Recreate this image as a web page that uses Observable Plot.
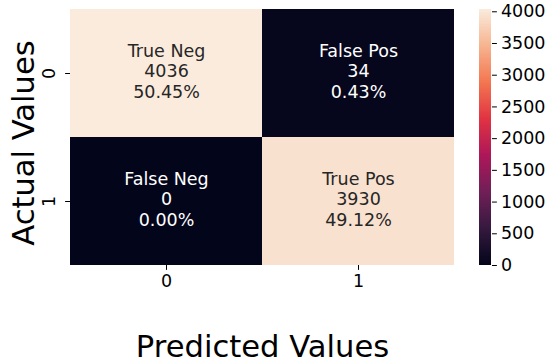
<!DOCTYPE html>
<html>
<head>
<meta charset="utf-8">
<script src="https://cdn.jsdelivr.net/npm/d3@7"></script>
<script src="https://cdn.jsdelivr.net/npm/@observablehq/plot@0.6"></script>
<style>
  html, body { margin: 0; padding: 0; background: white; }
  #chart { position: relative; width: 550px; height: 362px; }
  #chart svg { position: absolute; left: 0; top: 0; }
</style>
</head>
<body>
<div id="chart"></div>
<script>
// ---- data ----
const actualCats = ["0", "1"];
const predictedCats = ["0", "1"];
const cellActual = ["0", "0", "1", "1"];
const cellPredicted = ["0", "1", "0", "1"];
const cellNames = ["True Neg", "False Pos", "False Neg", "True Pos"];
const cellCounts = [4036, 34, 0, 3930];
const cellPercents = ["50.45%", "0.43%", "0.00%", "49.12%"];
const colorbarTicks = [0, 500, 1000, 1500, 2000, 2500, 3000, 3500, 4000];
const xLabel = "Predicted Values";
const yLabel = "Actual Values";

// rocket colormap (seaborn) stops
const rocketStops = ["#03051a", "#35193e", "#701f57", "#ad1759", "#e13342", "#f37651", "#f6b48f", "#faebdd"];
const rocket = d3.piecewise(d3.interpolateRgb, rocketStops);

const vmin = 0;
const vmax = d3.max(cellCounts);

const cells = cellCounts.map((c, i) => ({
  actual: cellActual[i],
  predicted: cellPredicted[i],
  name: cellNames[i],
  count: c,
  pct: cellPercents[i]
}));

const font = "DejaVu Sans";
const fs = 17.5;
const bigFs = 30.6;

const colorOpts = {type: "linear", domain: [vmin, vmax], interpolate: rocket};

function textColor(v) {
  const c = d3.rgb(rocket((v - vmin) / (vmax - vmin)));
  const lum = [c.r, c.g, c.b].map(x => {
    x /= 255;
    return x <= 0.03928 ? x / 12.92 : Math.pow((x + 0.055) / 1.055, 2.4);
  });
  const L = 0.2126 * lum[0] + 0.7152 * lum[1] + 0.0722 * lum[2];
  return L > 0.408 ? "#262626" : "#ffffff";
}

const main = Plot.plot({
  width: 550,
  height: 362,
  marginLeft: 70,
  marginRight: 96,
  marginTop: 9,
  marginBottom: 97,
  style: {fontFamily: font, fontSize: fs + "px", background: "white", color: "black"},
  x: {type: "band", domain: predictedCats, padding: 0, axis: null},
  y: {type: "band", domain: actualCats, padding: 0, axis: null},
  color: colorOpts,
  marks: [
    Plot.cell(cells, {x: "predicted", y: "actual", fill: "count", inset: 0}),
    Plot.text(cells, {
      x: "predicted", y: "actual",
      text: d => `${d.name}\n${d.count}\n${d.pct}`,
      fill: d => textColor(d.count),
      fontSize: fs, lineHeight: 1.17, dy: -3
    }),
    Plot.axisX({tickSize: 4.9, tickPadding: 4.5, fontSize: fs, label: null}),
    Plot.axisY({tickSize: 4.9, tickFormat: () => "", label: null}),
    Plot.text(actualCats, {y: d => d, frameAnchor: "left", textAnchor: "middle", lineAnchor: "middle", dx: -21, rotate: -90, fontSize: fs, fill: "black"}),
    Plot.text([xLabel], {frameAnchor: "bottom", textAnchor: "middle", dy: 91, lineAnchor: "bottom", fontSize: bigFs, fill: "black"}),
    Plot.text([yLabel], {frameAnchor: "left", textAnchor: "middle", dx: -36.5, dy: 5.5, rotate: -90, lineAnchor: "bottom", fontSize: bigFs, fill: "black"})
  ]
});

// colorbar slices (gradient of the colour scale)
const nSlices = 300;
const step = (vmax - vmin) / nSlices;
const slices = d3.range(nSlices).map(i => ({y1: vmin + i * step, y2: vmin + (i + 1) * step, v: vmin + (i + 0.5) * step}));

const bar = Plot.plot({
  width: 550,
  height: 362,
  marginLeft: 479,
  marginRight: 59,
  marginTop: 9,
  marginBottom: 97,
  style: {fontFamily: font, fontSize: fs + "px", background: "transparent", color: "black"},
  x: {domain: [0, 1], axis: null},
  y: {domain: [vmin, vmax], axis: null},
  color: colorOpts,
  marks: [
    Plot.rect(slices, {x1: 0, x2: 1, y1: "y1", y2: "y2", fill: "v", shapeRendering: "crispEdges"}),
    Plot.axisY({anchor: "right", ticks: colorbarTicks, tickSize: 4.9, tickPadding: 4.5, tickFormat: d3.format("d"), fontSize: fs, label: null})
  ]
});

const chart = document.getElementById("chart");
chart.appendChild(main);
chart.appendChild(bar);
</script>
</body>
</html>
